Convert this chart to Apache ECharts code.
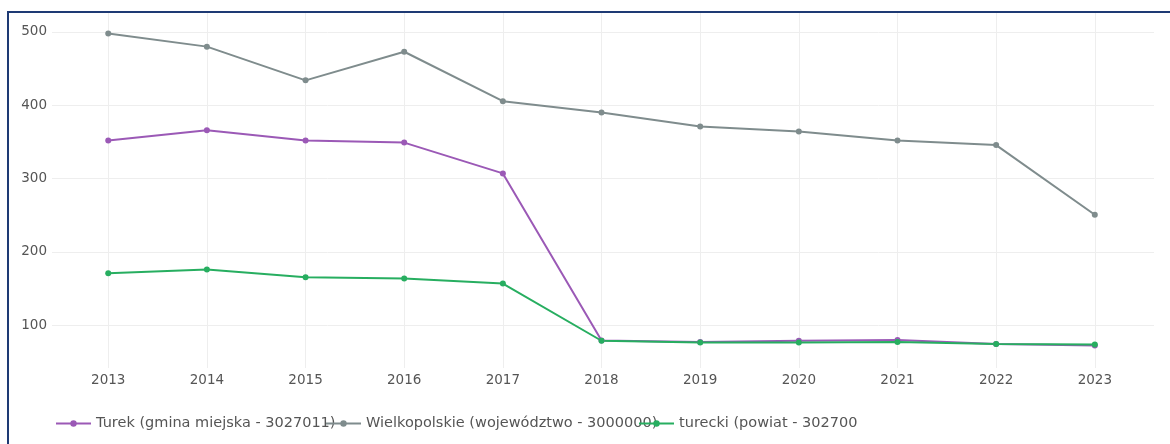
<!DOCTYPE html>
<html>
<head>
<meta charset="utf-8">
<script src="https://cdn.jsdelivr.net/npm/echarts@6/dist/echarts.min.js"></script>
<style>
    html,body{margin:0;padding:0;background:#fff;}
    #wykres{position:absolute;left:0;top:0;width:1170px;height:444px;}
    #ramka{position:absolute;left:7px;top:11px;width:1200px;height:500px;
        border-left:2px solid #1e3a74;border-top:2px solid #1e3a74;pointer-events:none;}
</style>
</head>
<body>
<div id="wykres"></div>
<div id="ramka"></div>
<script>
    var lata = [2013, 2014, 2015, 2016, 2017, 2018, 2019, 2020, 2021, 2022, 2023];
    var turek = [352, 366, 352, 349, 307, 79, 77, 78.6, 79.5, 74.1, 72.2];
    var wielkopolskie = [498, 480, 434, 473, 405.6, 390, 371, 364.3, 352, 345.6, 250.5];
    var turecki = [170.8, 175.8, 165.4, 163.5, 156.7, 78.6, 76.3, 76.3, 76.8, 74.1, 73.6];
    var yTicks = [100, 200, 300, 400, 500];

    var nazwy = ['Turek (gmina miejska - 3027011)', 'Wielkopolskie (województwo - 3000000)', 'turecki (powiat - 3027000)'];
    var kolory = ['#9b59b6', '#7f8c8d', '#27ae60'];

    function pary(arr){
        var out = [];
        for(var i=0;i<lata.length;i++){
            out.push([lata[i], arr[i]]);
        }
        return out;
    }

    var font = 'DejaVu Sans';
    var myChart = echarts.init(document.getElementById('wykres'));

    // każda pozycja legendy osobno, żeby nachodziły na siebie jak w oryginale
    function legenda(idx, left, width){
        var l = {
            data: [nazwy[idx]],
            left: left,
            top: 416,
            padding: 0,
            itemWidth: 35,
            itemHeight: 8,
            itemGap: 0,
            textStyle: {fontFamily: font, fontSize: 14.5, color: '#555'}
        };
        if(width){
            l.textStyle.width = width;
            l.textStyle.overflow = 'truncate';
            l.textStyle.ellipsis = '';
        }
        return l;
    }

    var series = [];
    var dane = [turek, wielkopolskie, turecki];
    for(var s=0;s<3;s++){
        series.push({
            name: nazwy[s],
            type: 'line',
            data: pary(dane[s]),
            symbol: 'circle',
            symbolSize: 6,
            lineStyle: {width: 2, color: kolory[s]},
            itemStyle: {color: kolory[s]},
            animation: false
        });
    }

    var option = {
        backgroundColor: '#fff',
        color: kolory,
        grid: {left: 52, right: 16, top: 13, bottom: 76},
        legend: [legenda(0, 55), legenda(1, 325), legenda(2, 638, 186)],
        xAxis: {
            type: 'value',
            min: 2012.43,
            max: 2023.6,
            axisLine: {show: false},
            axisTick: {show: false, customValues: lata},
            axisLabel: {customValues: lata, margin: 5, fontFamily: font, fontSize: 13.5, color: '#555',
                formatter: function(v){ return String(Math.round(v)); }},
            splitLine: {show: true, lineStyle: {color: '#eeeeee', width: 1}}
        },
        yAxis: {
            type: 'value',
            min: 41.4,
            max: 525.9,
            axisLine: {show: false},
            axisTick: {show: false, customValues: yTicks},
            axisLabel: {customValues: yTicks, margin: 5, fontFamily: font, fontSize: 13.5, color: '#555'},
            splitLine: {show: true, lineStyle: {color: '#eeeeee', width: 1}}
        },
        series: series
    };
    myChart.setOption(option);
</script>
</body>
</html>
